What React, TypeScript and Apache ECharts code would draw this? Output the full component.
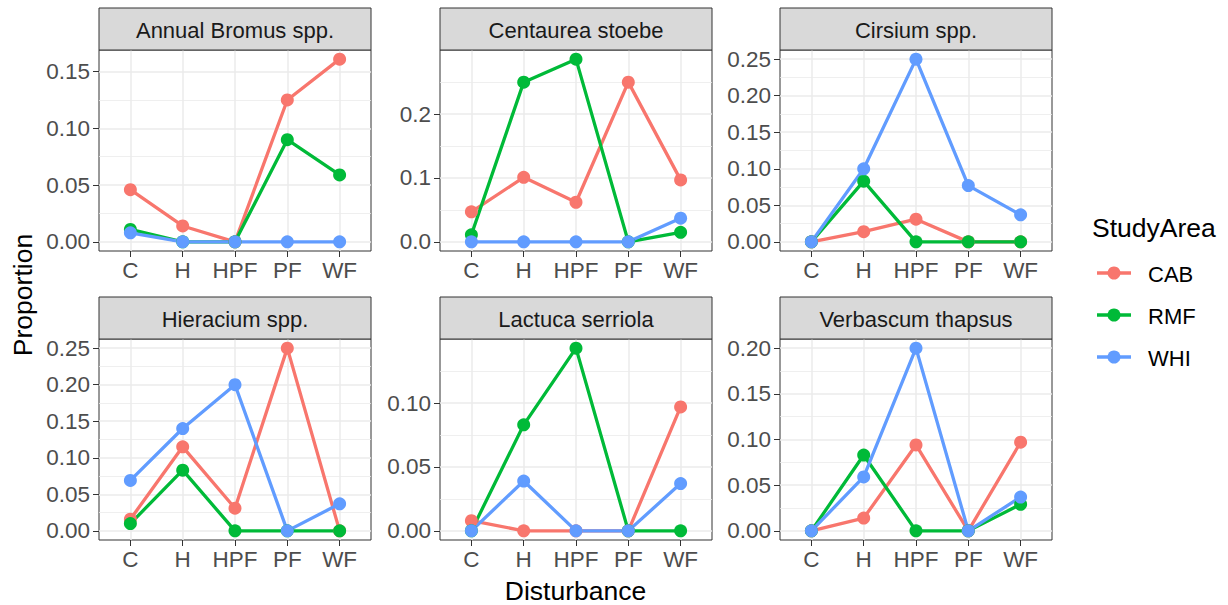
import React, { useEffect, useRef } from "react";
import * as echarts from "echarts";

// ---------- data ----------
const disturbances = ["C", "H", "HPF", "PF", "WF"];
const studyAreas = ["CAB", "RMF", "WHI"];
const areaColors = ["#F8766D", "#00BA38", "#619CFF"];
const speciesNames = [
  "Annual Bromus spp.",
  "Centaurea stoebe",
  "Cirsium spp.",
  "Hieracium spp.",
  "Lactuca serriola",
  "Verbascum thapsus",
];

const bromusCAB = [0.046, 0.014, 0, 0.125, 0.161];
const bromusRMF = [0.011, 0, 0, 0.09, 0.059];
const bromusWHI = [0.008, 0, 0, 0, 0];

const centaureaCAB = [0.047, 0.101, 0.062, 0.25, 0.097];
const centaureaRMF = [0.011, 0.25, 0.286, 0, 0.015];
const centaureaWHI = [0, 0, 0, 0, 0.037];

const cirsiumCAB = [0, 0.014, 0.031, 0, 0];
const cirsiumRMF = [0, 0.083, 0, 0, 0];
const cirsiumWHI = [0, 0.1, 0.25, 0.077, 0.037];

const hieraciumCAB = [0.016, 0.115, 0.031, 0.25, 0];
const hieraciumRMF = [0.01, 0.083, 0, 0, 0];
const hieraciumWHI = [0.069, 0.14, 0.2, 0, 0.037];

const lactucaCAB = [0.008, 0, 0, 0, 0.097];
const lactucaRMF = [0, 0.083, 0.143, 0, 0];
const lactucaWHI = [0, 0.039, 0, 0, 0.037];

const verbascumCAB = [0, 0.014, 0.094, 0, 0.097];
const verbascumRMF = [0, 0.083, 0, 0, 0.029];
const verbascumWHI = [0, 0.059, 0.2, 0, 0.037];

const bromusTicks = [0, 0.05, 0.1, 0.15];
const centaureaTicks = [0, 0.1, 0.2];
const cirsiumTicks = [0, 0.05, 0.1, 0.15, 0.2, 0.25];
const hieraciumTicks = [0, 0.05, 0.1, 0.15, 0.2, 0.25];
const lactucaTicks = [0, 0.05, 0.1];
const verbascumTicks = [0, 0.05, 0.1, 0.15, 0.2];
const tickDecimals = [2, 1, 2, 2, 2, 2];

const panelValues = [
  [bromusCAB, bromusRMF, bromusWHI],
  [centaureaCAB, centaureaRMF, centaureaWHI],
  [cirsiumCAB, cirsiumRMF, cirsiumWHI],
  [hieraciumCAB, hieraciumRMF, hieraciumWHI],
  [lactucaCAB, lactucaRMF, lactucaWHI],
  [verbascumCAB, verbascumRMF, verbascumWHI],
];
const panelTicks = [bromusTicks, centaureaTicks, cirsiumTicks, hieraciumTicks, lactucaTicks, verbascumTicks];

// ---------- layout ----------
const FONT = "'Liberation Sans', Arial, Helvetica, sans-serif";
const panelLefts = [99, 440, 780];
const panelWidth = 272;
const plotTops = [50, 339];
const panelHeight = 201;
const stripHeight = 42;
const tickFont = 22.5;
const stripFont = 22;
const legendFont = 22;
const titleFont = 26.5;

function buildOption() {
  const grid: any[] = [];
  const xAxis: any[] = [];
  const yAxis: any[] = [];
  const series: any[] = [];
  const graphic: any[] = [];
  const catIdx = disturbances.map((_, i) => i);

  panelValues.forEach((vals, p) => {
    const col = p % 3;
    const row = Math.floor(p / 3);
    const left = panelLefts[col];
    const top = plotTops[row];
    let M = 0;
    vals.forEach((arr) => arr.forEach((v) => (M = Math.max(M, v))));
    const yMin = -0.05 * M;
    const yMax = 1.05 * M;
    const ticks = panelTicks[p];
    const step = ticks[1] - ticks[0];
    const minors: number[] = [];
    for (let i = 0; i <= ticks.length; i++) {
      const m = ticks[0] + step * (i - 0.5);
      if (m >= yMin && m <= yMax) minors.push(m);
    }

    grid.push({
      left,
      top,
      width: panelWidth,
      height: panelHeight,
      show: true,
      borderColor: "#333333",
      borderWidth: 1,
      backgroundColor: "transparent",
      containLabel: false,
      outerBoundsMode: "none",
    });

    xAxis.push({
      gridIndex: p,
      type: "value",
      position: "bottom",
      min: -0.6,
      max: disturbances.length - 1 + 0.6,
      axisLine: { show: false, onZero: false },
      axisTick: {
        show: true,
        customValues: catIdx,
        length: 6,
        lineStyle: { color: "#333333", width: 1 },
      },
      axisLabel: {
        show: true,
        customValues: catIdx,
        formatter: (v: number) => disturbances[Math.round(v)],
        color: "#4D4D4D",
        fontSize: tickFont,
        fontFamily: FONT,
        margin: 8,
      },
      splitLine: { show: true, lineStyle: { color: "#EBEBEB", width: 1.5 } },
    });

    yAxis.push({
      gridIndex: p,
      type: "value",
      position: "left",
      min: yMin,
      max: yMax,
      axisLine: { show: false, onZero: false },
      axisTick: {
        show: true,
        customValues: ticks,
        length: 6,
        lineStyle: { color: "#333333", width: 1 },
      },
      axisLabel: {
        show: true,
        customValues: ticks,
        formatter: (v: number) => v.toFixed(tickDecimals[p]),
        color: "#4D4D4D",
        fontSize: tickFont,
        fontFamily: FONT,
        margin: 9,
      },
      splitLine: { show: true, lineStyle: { color: "#EBEBEB", width: 1.5 } },
    });
    yAxis.push({
      gridIndex: p,
      type: "value",
      position: "left",
      min: yMin,
      max: yMax,
      axisLine: { show: false, onZero: false },
      axisTick: { show: false, customValues: minors },
      axisLabel: { show: false, customValues: minors },
      splitLine: { show: true, lineStyle: { color: "#EBEBEB", width: 0.8 } },
    });

    vals.forEach((arr, a) => {
      series.push({
        type: "line",
        name: studyAreas[a],
        xAxisIndex: p,
        yAxisIndex: 2 * p,
        data: arr.map((v, i) => [i, v]),
        showSymbol: false,
        symbol: "none",
        silent: true,
        z: 2,
        lineStyle: { color: areaColors[a], width: 3.3 },
        itemStyle: { color: areaColors[a] },
      });
    });
    vals.forEach((arr, a) => {
      series.push({
        type: "scatter",
        name: studyAreas[a],
        xAxisIndex: p,
        yAxisIndex: 2 * p,
        data: arr.map((v, i) => [i, v]),
        symbol: "circle",
        symbolSize: 13,
        silent: true,
        z: 3,
        itemStyle: { color: areaColors[a], opacity: 1 },
      });
    });

    // strip
    const stripTop = top - stripHeight;
    graphic.push({
      type: "rect",
      silent: true,
      z: 10,
      shape: { x: left, y: stripTop, width: panelWidth, height: stripHeight },
      style: { fill: "#D9D9D9", stroke: "#333333", lineWidth: 1 },
    });
    graphic.push({
      type: "text",
      silent: true,
      z: 11,
      x: left + panelWidth / 2,
      y: stripTop + stripHeight / 2 + 1,
      style: {
        text: speciesNames[p],
        fill: "#1A1A1A",
        fontSize: stripFont,
        fontFamily: FONT,
        align: "center",
        verticalAlign: "middle",
        textAlign: "center",
        textVerticalAlign: "middle",
      },
    });
  });

  // axis titles
  graphic.push({
    type: "text",
    silent: true,
    x: 23,
    y: 295,
    rotation: Math.PI / 2,
    style: {
      text: "Proportion",
      fill: "#000000",
      fontSize: titleFont,
      fontFamily: FONT,
      align: "center",
      verticalAlign: "middle",
      textAlign: "center",
      textVerticalAlign: "middle",
    },
  });
  graphic.push({
    type: "text",
    silent: true,
    x: 575.5,
    y: 591,
    style: {
      text: "Disturbance",
      fill: "#000000",
      fontSize: titleFont,
      fontFamily: FONT,
      align: "center",
      verticalAlign: "middle",
      textAlign: "center",
      textVerticalAlign: "middle",
    },
  });

  // legend
  graphic.push({
    type: "text",
    silent: true,
    x: 1092,
    y: 228,
    style: {
      text: "StudyArea",
      fill: "#000000",
      fontSize: titleFont,
      fontFamily: FONT,
      align: "left",
      verticalAlign: "middle",
      textAlign: "left",
      textVerticalAlign: "middle",
    },
  });
  studyAreas.forEach((name, a) => {
    const y = 273 + 42 * a;
    graphic.push({
      type: "line",
      silent: true,
      shape: { x1: 1097, y1: y, x2: 1131, y2: y },
      style: { stroke: areaColors[a], lineWidth: 3.3 },
    });
    graphic.push({
      type: "circle",
      silent: true,
      shape: { cx: 1114, cy: y, r: 6.5 },
      style: { fill: areaColors[a] },
    });
    graphic.push({
      type: "text",
      silent: true,
      x: 1148,
      y: y + 1,
      style: {
        text: name,
        fill: "#000000",
        fontSize: legendFont,
        fontFamily: FONT,
        align: "left",
        verticalAlign: "middle",
        textAlign: "left",
        textVerticalAlign: "middle",
      },
    });
  });

  return {
    animation: false,
    backgroundColor: "#FFFFFF",
    textStyle: { fontFamily: FONT },
    grid,
    xAxis,
    yAxis,
    series,
    graphic,
  };
}

export default function App() {
  const ref = useRef<HTMLDivElement>(null);
  useEffect(() => {
    if (!ref.current) return;
    const chart = echarts.init(ref.current, null, { renderer: "svg" });
    chart.setOption(buildOption() as any);
    return () => chart.dispose();
  }, []);
  return (
    <div
      ref={ref}
      style={{ position: "absolute", left: 0, top: 0, width: 1228, height: 605 }}
    />
  );
}
